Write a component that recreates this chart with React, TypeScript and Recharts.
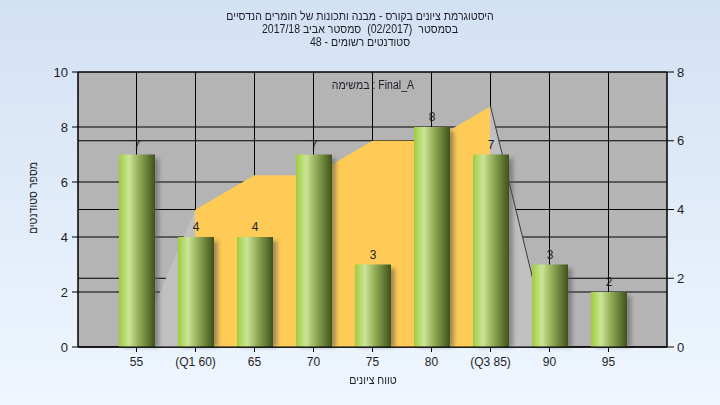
import React from "react";
import {
  ComposedChart,
  Bar,
  Area,
  XAxis,
  YAxis,
  CartesianGrid,
  LabelList,
} from "recharts";

// grade buckets and counts
const categories = ["55", "(Q1 60)", "65", "70", "75", "80", "(Q3 85)", "90", "95"];
const students = [7, 4, 4, 7, 3, 8, 7, 3, 2];
// background distribution (right axis)
const distribution = [0, 4, 5, 5, 6, 6, 7, 0, 0];
const leftTicks = [0, 2, 4, 6, 8, 10];
const rightTicks = [0, 2, 4, 6, 8];

const q1Index = 1;
const q3Index = 6;

const data = categories.map((label, i) => ({
  label,
  students: students[i],
  dist: distribution[i],
  tail: i >= q3Index && i <= q3Index + 1 ? distribution[i] : null,
}));

const FONT = "'Liberation Sans', Arial, sans-serif";
const TEXT = "#1e1e28";

const BarShape = (props: any) => {
  const { x, y, width, height } = props;
  if (!height || height <= 0) return null;
  return (
    <g>
      <rect
        x={x + 4}
        y={y + 4}
        width={width}
        height={height - 4}
        fill="#555"
        opacity={0.55}
        filter="url(#barShadow)"
      />
      <rect x={x} y={y} width={width} height={height} fill="url(#barFill)" />
    </g>
  );
};

const n = categories.length - 1;

const narrow = { transform: "scaleX(0.88)", transformOrigin: "center" };

export default function App() {
  return (
    <div
      style={{
        position: "relative",
        width: 720,
        height: 405,
        background: "linear-gradient(to bottom, #d3e1f4, #eff6fe)",
        fontFamily: FONT,
        color: TEXT,
      }}
    >
      <style>{`body{margin:0}`}</style>

      <div
        dir="rtl"
        style={{
          position: "absolute",
          top: 10,
          left: 0,
          width: 720,
          textAlign: "center",
          fontSize: 12,
          lineHeight: "13px",
          ...narrow,
        }}
      >
        <div>היסטוגרמת ציונים בקורס - מבנה ותכונות של חומרים הנדסיים</div>
        <div>בסמסטר&nbsp; (02/2017)&nbsp; סמסטר אביב 2017/18</div>
        <div>סטודנטים רשומים - 48</div>
      </div>

      <ComposedChart
        width={720}
        height={405}
        data={data}
        margin={{ top: 72, right: 0, left: 0, bottom: 0 }}
        style={{ position: "absolute", top: 0, left: 0 }}
      >
        <defs>
          <linearGradient id="barFill" x1="0" y1="0" x2="1" y2="0">
            <stop offset="0%" stopColor="#9fcb3c" />
            <stop offset="12%" stopColor="#b2d866" />
            <stop offset="28%" stopColor="#cbe497" />
            <stop offset="55%" stopColor="#93ad58" />
            <stop offset="100%" stopColor="#3f521a" />
          </linearGradient>
          <linearGradient id="areaFill" x1="0" y1="0" x2="1" y2="0">
            <stop offset={0} stopColor="#c0c0c0" />
            <stop offset={q1Index / n} stopColor="#c0c0c0" />
            <stop offset={q1Index / n} stopColor="#fecb57" />
            <stop offset={q3Index / n} stopColor="#fecb57" />
            <stop offset={q3Index / n} stopColor="#c0c0c0" />
            <stop offset={1} stopColor="#c0c0c0" />
          </linearGradient>
          <filter id="barShadow" x="-50%" y="-10%" width="200%" height="120%">
            <feGaussianBlur stdDeviation="2" />
          </filter>
        </defs>

        <CartesianGrid
          yAxisId="left"
          vertical={false}
          stroke="#000"
          fill="#b4b4b4"
          fillOpacity={1}
        />
        <CartesianGrid yAxisId="right" stroke="#000" />

        <XAxis
          dataKey="label"
          height={58}
          padding={{ left: 29, right: 29 }}
          stroke="#000"
          tickSize={5}
          tickMargin={5}
          tick={{ fill: TEXT, fontSize: 12, fontFamily: FONT }}
          interval={0}
        />
        <YAxis
          yAxisId="left"
          width={78}
          domain={[0, 10]}
          ticks={leftTicks}
          stroke="#000"
          tickSize={6}
          tickMargin={4}
          tick={{ fill: TEXT, fontSize: 13, fontFamily: FONT }}
        />
        <YAxis
          yAxisId="right"
          orientation="right"
          width={53}
          domain={[0, 8]}
          ticks={rightTicks}
          stroke="#000"
          tickSize={7}
          tickMargin={3}
          tick={{ fill: TEXT, fontSize: 13, fontFamily: FONT }}
        />

        <Area
          yAxisId="right"
          type="linear"
          dataKey="dist"
          fill="url(#areaFill)"
          fillOpacity={1}
          stroke="none"
          isAnimationActive={false}
        />
        <Area
          yAxisId="right"
          type="linear"
          dataKey="tail"
          fill="none"
          stroke="#3a3a3a"
          strokeWidth={1}
          dot={false}
          activeDot={false}
          isAnimationActive={false}
        />
        <Bar
          yAxisId="left"
          dataKey="students"
          barSize={36}
          shape={<BarShape />}
          isAnimationActive={false}
        >
          <LabelList
            dataKey="students"
            position="top"
            offset={6}
            fill={TEXT}
            fontSize={12}
            fontFamily={FONT}
          />
        </Bar>
      </ComposedChart>

      <div
        style={{
          position: "absolute",
          top: 78,
          left: 0,
          width: 746,
          textAlign: "center",
          fontSize: 12,
          ...narrow,
        }}
      >
        במשימה : Final_A
      </div>

      <div
        dir="rtl"
        style={{
          position: "absolute",
          top: 373,
          left: 0,
          width: 746,
          textAlign: "center",
          fontSize: 12,
          ...narrow,
        }}
      >
        טווח ציונים
      </div>

      <div
        dir="rtl"
        style={{
          position: "absolute",
          left: 33,
          top: 198,
          transform: "translate(-50%, -50%) rotate(-90deg) scaleX(0.88)",
          whiteSpace: "nowrap",
          fontSize: 12,
        }}
      >
        מספר סטודנטים
      </div>
    </div>
  );
}
